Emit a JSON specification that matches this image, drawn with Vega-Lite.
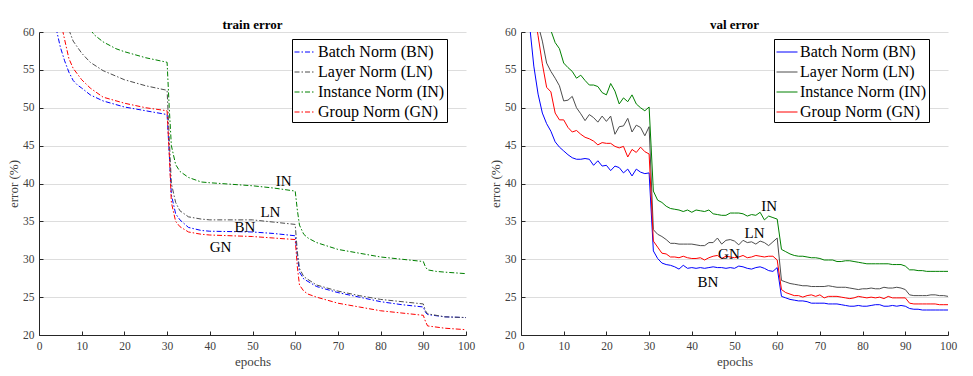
{
  "$schema": "https://vega.github.io/schema/vega-lite/v6.json",
  "background": "white",
  "padding": {"left": 7, "top": 19, "right": 5, "bottom": 5},
  "spacing": 55,
  "bounds": "flush",
  "config": {
    "font": "Liberation Serif",
    "view": {"stroke": null},
    "axis": {
      "labelFont": "Liberation Serif", "labelFontSize": 11.5, "labelColor": "#404040",
      "titleFont": "Liberation Serif", "titleFontSize": 13, "titleFontWeight": "normal", "titleColor": "#404040",
      "domainColor": "#262626", "tickColor": "#262626", "tickSize": -4, "labelPadding": 9,
      "gridColor": "#dddddd", "labelFlush": false, "labelOverlap": false
    },
    "legend": {
      "orient": "none", "legendX": 253, "legendY": 7, "title": null,
      "strokeColor": "#000000", "fillColor": "#ffffff", "padding": 2,
      "symbolType": "stroke", "symbolSize": 441, "symbolStrokeWidth": 1,
      "labelFont": "Liberation Serif", "labelFontSize": 16, "labelColor": "#000000",
      "rowPadding": 1, "labelOffset": 2
    }
  },
  "resolve": {"scale": {"color": "independent", "x": "independent", "y": "independent"}, "legend": {"color": "independent"}},
  "datasets": {
    "train": [
      {"m":"BN","e":4,"v":60.5},{"m":"BN","e":5,"v":58.0},{"m":"BN","e":6,"v":56.2},{"m":"BN","e":7,"v":54.7},{"m":"BN","e":8,"v":53.6},{"m":"BN","e":9,"v":53.0},{"m":"BN","e":10,"v":52.6},{"m":"BN","e":12,"v":51.7},{"m":"BN","e":15,"v":50.9},{"m":"BN","e":20,"v":50.1},{"m":"BN","e":25,"v":49.6},{"m":"BN","e":30,"v":49.1},{"m":"BN","e":30.5,"v":44.0},{"m":"BN","e":31,"v":38.5},{"m":"BN","e":32,"v":36.0},{"m":"BN","e":33,"v":35.2},{"m":"BN","e":35,"v":34.2},{"m":"BN","e":38,"v":33.8},{"m":"BN","e":40,"v":33.7},{"m":"BN","e":50,"v":33.6},{"m":"BN","e":55,"v":33.4},{"m":"BN","e":60,"v":33.1},{"m":"BN","e":60.5,"v":30.5},{"m":"BN","e":61,"v":28.3},{"m":"BN","e":62,"v":27.4},{"m":"BN","e":65,"v":26.4},{"m":"BN","e":70,"v":25.6},{"m":"BN","e":75,"v":25.0},{"m":"BN","e":80,"v":24.4},{"m":"BN","e":85,"v":24.0},{"m":"BN","e":90,"v":23.7},{"m":"BN","e":90.5,"v":23.0},{"m":"BN","e":91,"v":22.7},{"m":"BN","e":95,"v":22.4},{"m":"BN","e":100,"v":22.3},
      {"m":"LN","e":7,"v":60.3},{"m":"LN","e":8,"v":58.8},{"m":"LN","e":10,"v":57.2},{"m":"LN","e":12,"v":56.0},{"m":"LN","e":15,"v":54.9},{"m":"LN","e":20,"v":53.7},{"m":"LN","e":25,"v":52.9},{"m":"LN","e":30,"v":52.3},{"m":"LN","e":30.5,"v":46.0},{"m":"LN","e":31,"v":40.0},{"m":"LN","e":32,"v":37.5},{"m":"LN","e":33,"v":36.4},{"m":"LN","e":35,"v":35.6},{"m":"LN","e":38,"v":35.3},{"m":"LN","e":40,"v":35.2},{"m":"LN","e":50,"v":35.2},{"m":"LN","e":55,"v":34.9},{"m":"LN","e":60,"v":34.6},{"m":"LN","e":60.5,"v":31.0},{"m":"LN","e":61,"v":28.8},{"m":"LN","e":62,"v":27.7},{"m":"LN","e":65,"v":26.6},{"m":"LN","e":70,"v":25.8},{"m":"LN","e":75,"v":25.2},{"m":"LN","e":80,"v":24.7},{"m":"LN","e":85,"v":24.4},{"m":"LN","e":90,"v":24.1},{"m":"LN","e":90.5,"v":23.2},{"m":"LN","e":91,"v":22.8},{"m":"LN","e":95,"v":22.4},{"m":"LN","e":100,"v":22.3},
      {"m":"IN","e":12,"v":60.3},{"m":"IN","e":13,"v":59.6},{"m":"IN","e":15,"v":58.7},{"m":"IN","e":18,"v":57.8},{"m":"IN","e":20,"v":57.4},{"m":"IN","e":25,"v":56.6},{"m":"IN","e":30,"v":56.0},{"m":"IN","e":30.5,"v":50.0},{"m":"IN","e":31,"v":45.0},{"m":"IN","e":32,"v":42.5},{"m":"IN","e":33,"v":41.6},{"m":"IN","e":35,"v":40.8},{"m":"IN","e":38,"v":40.2},{"m":"IN","e":40,"v":40.1},{"m":"IN","e":45,"v":39.9},{"m":"IN","e":50,"v":39.7},{"m":"IN","e":55,"v":39.4},{"m":"IN","e":60,"v":39.0},{"m":"IN","e":60.5,"v":36.5},{"m":"IN","e":61,"v":34.5},{"m":"IN","e":62,"v":33.3},{"m":"IN","e":63,"v":32.8},{"m":"IN","e":65,"v":32.2},{"m":"IN","e":70,"v":31.3},{"m":"IN","e":75,"v":30.8},{"m":"IN","e":80,"v":30.3},{"m":"IN","e":85,"v":30.0},{"m":"IN","e":90,"v":29.7},{"m":"IN","e":90.5,"v":29.0},{"m":"IN","e":91,"v":28.6},{"m":"IN","e":93,"v":28.4},{"m":"IN","e":95,"v":28.3},{"m":"IN","e":100,"v":28.1},
      {"m":"GN","e":5.5,"v":60.3},{"m":"GN","e":6,"v":59.0},{"m":"GN","e":7,"v":56.5},{"m":"GN","e":8,"v":55.2},{"m":"GN","e":10,"v":53.7},{"m":"GN","e":12,"v":52.6},{"m":"GN","e":15,"v":51.4},{"m":"GN","e":20,"v":50.6},{"m":"GN","e":25,"v":50.0},{"m":"GN","e":30,"v":49.6},{"m":"GN","e":30.5,"v":44.0},{"m":"GN","e":31,"v":37.5},{"m":"GN","e":32,"v":35.0},{"m":"GN","e":33,"v":34.3},{"m":"GN","e":35,"v":33.6},{"m":"GN","e":38,"v":33.3},{"m":"GN","e":40,"v":33.2},{"m":"GN","e":50,"v":33.0},{"m":"GN","e":55,"v":32.8},{"m":"GN","e":60,"v":32.6},{"m":"GN","e":60.5,"v":29.0},{"m":"GN","e":61,"v":26.6},{"m":"GN","e":62,"v":25.8},{"m":"GN","e":63,"v":25.4},{"m":"GN","e":65,"v":25.0},{"m":"GN","e":70,"v":24.2},{"m":"GN","e":75,"v":23.7},{"m":"GN","e":80,"v":23.2},{"m":"GN","e":85,"v":22.9},{"m":"GN","e":90,"v":22.6},{"m":"GN","e":90.5,"v":21.8},{"m":"GN","e":91,"v":21.2},{"m":"GN","e":95,"v":20.9},{"m":"GN","e":100,"v":20.7}
    ],
    "val": [
      {"m":"BN","e":2,"v":61.0},{"m":"BN","e":3,"v":55.5},{"m":"BN","e":4,"v":51.8},{"m":"BN","e":5,"v":49.3},{"m":"BN","e":6,"v":47.9},{"m":"BN","e":7,"v":46.9},{"m":"BN","e":8,"v":45.5},{"m":"BN","e":9,"v":44.8},{"m":"BN","e":10,"v":44.3},{"m":"BN","e":11,"v":43.8},{"m":"BN","e":12,"v":43.4},{"m":"BN","e":13,"v":43.2},{"m":"BN","e":14,"v":43.2},{"m":"BN","e":15,"v":43.3},{"m":"BN","e":16,"v":43.2},{"m":"BN","e":17,"v":42.4},{"m":"BN","e":18,"v":43.0},{"m":"BN","e":19,"v":42.3},{"m":"BN","e":20,"v":42.4},{"m":"BN","e":21,"v":41.7},{"m":"BN","e":22,"v":42.3},{"m":"BN","e":23,"v":42.1},{"m":"BN","e":24,"v":41.4},{"m":"BN","e":25,"v":41.9},{"m":"BN","e":26,"v":41.0},{"m":"BN","e":27,"v":41.9},{"m":"BN","e":28,"v":41.5},{"m":"BN","e":29,"v":41.3},{"m":"BN","e":30,"v":41.4},{"m":"BN","e":31,"v":31.1},{"m":"BN","e":32,"v":30.1},{"m":"BN","e":33,"v":29.5},{"m":"BN","e":34,"v":29.3},{"m":"BN","e":35,"v":29.2},{"m":"BN","e":36,"v":29.0},{"m":"BN","e":37,"v":28.7},{"m":"BN","e":38,"v":29.2},{"m":"BN","e":39,"v":28.8},{"m":"BN","e":40,"v":28.9},{"m":"BN","e":41,"v":28.8},{"m":"BN","e":42,"v":28.9},{"m":"BN","e":43,"v":28.8},{"m":"BN","e":44,"v":28.9},{"m":"BN","e":45,"v":29.0},{"m":"BN","e":46,"v":28.9},{"m":"BN","e":47,"v":28.9},{"m":"BN","e":48,"v":28.8},{"m":"BN","e":49,"v":28.9},{"m":"BN","e":50,"v":28.8},{"m":"BN","e":51,"v":29.1},{"m":"BN","e":52,"v":29.0},{"m":"BN","e":53,"v":28.8},{"m":"BN","e":54,"v":28.7},{"m":"BN","e":55,"v":28.9},{"m":"BN","e":56,"v":29.0},{"m":"BN","e":57,"v":28.8},{"m":"BN","e":58,"v":28.5},{"m":"BN","e":59,"v":28.4},{"m":"BN","e":60,"v":28.9},{"m":"BN","e":61,"v":25.1},{"m":"BN","e":62,"v":24.9},{"m":"BN","e":63,"v":24.7},{"m":"BN","e":64,"v":24.6},{"m":"BN","e":65,"v":24.5},{"m":"BN","e":66,"v":24.5},{"m":"BN","e":67,"v":24.4},{"m":"BN","e":68,"v":24.2},{"m":"BN","e":69,"v":24.2},{"m":"BN","e":70,"v":24.2},{"m":"BN","e":71,"v":24.2},{"m":"BN","e":72,"v":24.1},{"m":"BN","e":73,"v":24.1},{"m":"BN","e":74,"v":24.1},{"m":"BN","e":75,"v":24.0},{"m":"BN","e":76,"v":23.9},{"m":"BN","e":77,"v":23.8},{"m":"BN","e":78,"v":23.8},{"m":"BN","e":79,"v":23.9},{"m":"BN","e":80,"v":23.8},{"m":"BN","e":81,"v":23.8},{"m":"BN","e":82,"v":23.9},{"m":"BN","e":83,"v":24.0},{"m":"BN","e":84,"v":24.0},{"m":"BN","e":85,"v":23.8},{"m":"BN","e":86,"v":23.8},{"m":"BN","e":87,"v":23.9},{"m":"BN","e":88,"v":23.8},{"m":"BN","e":89,"v":23.9},{"m":"BN","e":90,"v":23.8},{"m":"BN","e":91,"v":23.5},{"m":"BN","e":92,"v":23.4},{"m":"BN","e":93,"v":23.4},{"m":"BN","e":94,"v":23.3},{"m":"BN","e":95,"v":23.3},{"m":"BN","e":96,"v":23.3},{"m":"BN","e":97,"v":23.3},{"m":"BN","e":98,"v":23.3},{"m":"BN","e":99,"v":23.3},{"m":"BN","e":100,"v":23.3},
      {"m":"LN","e":4,"v":61.0},{"m":"LN","e":5,"v":58.8},{"m":"LN","e":6,"v":55.9},{"m":"LN","e":7,"v":54.8},{"m":"LN","e":8,"v":53.9},{"m":"LN","e":9,"v":52.9},{"m":"LN","e":10,"v":50.9},{"m":"LN","e":11,"v":51.0},{"m":"LN","e":12,"v":51.5},{"m":"LN","e":13,"v":50.0},{"m":"LN","e":14,"v":49.2},{"m":"LN","e":15,"v":48.3},{"m":"LN","e":16,"v":49.1},{"m":"LN","e":17,"v":48.7},{"m":"LN","e":18,"v":48.1},{"m":"LN","e":19,"v":48.9},{"m":"LN","e":20,"v":48.2},{"m":"LN","e":21,"v":48.9},{"m":"LN","e":22,"v":46.5},{"m":"LN","e":23,"v":47.5},{"m":"LN","e":24,"v":47.6},{"m":"LN","e":25,"v":48.6},{"m":"LN","e":26,"v":46.8},{"m":"LN","e":27,"v":47.7},{"m":"LN","e":28,"v":47.4},{"m":"LN","e":29,"v":46.3},{"m":"LN","e":30,"v":47.5},{"m":"LN","e":31,"v":33.9},{"m":"LN","e":32,"v":33.3},{"m":"LN","e":33,"v":33.0},{"m":"LN","e":34,"v":32.6},{"m":"LN","e":35,"v":32.1},{"m":"LN","e":36,"v":32.1},{"m":"LN","e":37,"v":32.0},{"m":"LN","e":38,"v":32.0},{"m":"LN","e":39,"v":32.0},{"m":"LN","e":40,"v":32.0},{"m":"LN","e":41,"v":31.9},{"m":"LN","e":42,"v":31.8},{"m":"LN","e":43,"v":31.8},{"m":"LN","e":44,"v":32.2},{"m":"LN","e":45,"v":32.2},{"m":"LN","e":46,"v":32.8},{"m":"LN","e":47,"v":32.0},{"m":"LN","e":48,"v":32.5},{"m":"LN","e":49,"v":32.6},{"m":"LN","e":50,"v":32.4},{"m":"LN","e":51,"v":31.9},{"m":"LN","e":52,"v":32.5},{"m":"LN","e":53,"v":32.2},{"m":"LN","e":54,"v":32.3},{"m":"LN","e":55,"v":32.0},{"m":"LN","e":56,"v":32.4},{"m":"LN","e":57,"v":32.2},{"m":"LN","e":58,"v":31.8},{"m":"LN","e":59,"v":32.3},{"m":"LN","e":60,"v":32.8},{"m":"LN","e":61,"v":27.2},{"m":"LN","e":62,"v":27.0},{"m":"LN","e":63,"v":26.8},{"m":"LN","e":64,"v":26.7},{"m":"LN","e":65,"v":26.6},{"m":"LN","e":66,"v":26.5},{"m":"LN","e":67,"v":26.5},{"m":"LN","e":68,"v":26.4},{"m":"LN","e":69,"v":26.4},{"m":"LN","e":70,"v":26.4},{"m":"LN","e":71,"v":26.4},{"m":"LN","e":72,"v":26.5},{"m":"LN","e":73,"v":26.4},{"m":"LN","e":74,"v":26.3},{"m":"LN","e":75,"v":26.3},{"m":"LN","e":76,"v":26.3},{"m":"LN","e":77,"v":26.2},{"m":"LN","e":78,"v":26.1},{"m":"LN","e":79,"v":26.0},{"m":"LN","e":80,"v":26.1},{"m":"LN","e":81,"v":26.1},{"m":"LN","e":82,"v":26.2},{"m":"LN","e":83,"v":26.1},{"m":"LN","e":84,"v":26.1},{"m":"LN","e":85,"v":26.3},{"m":"LN","e":86,"v":26.2},{"m":"LN","e":87,"v":26.2},{"m":"LN","e":88,"v":26.3},{"m":"LN","e":89,"v":26.2},{"m":"LN","e":90,"v":26.0},{"m":"LN","e":91,"v":25.3},{"m":"LN","e":92,"v":25.2},{"m":"LN","e":93,"v":25.2},{"m":"LN","e":94,"v":25.2},{"m":"LN","e":95,"v":25.2},{"m":"LN","e":96,"v":25.3},{"m":"LN","e":97,"v":25.3},{"m":"LN","e":98,"v":25.2},{"m":"LN","e":99,"v":25.2},{"m":"LN","e":100,"v":25.1},
      {"m":"IN","e":6,"v":64.0},{"m":"IN","e":7,"v":60.2},{"m":"IN","e":8,"v":58.6},{"m":"IN","e":9,"v":57.8},{"m":"IN","e":10,"v":55.9},{"m":"IN","e":11,"v":55.3},{"m":"IN","e":12,"v":54.8},{"m":"IN","e":13,"v":53.9},{"m":"IN","e":14,"v":54.3},{"m":"IN","e":15,"v":53.6},{"m":"IN","e":16,"v":53.0},{"m":"IN","e":17,"v":53.0},{"m":"IN","e":18,"v":52.8},{"m":"IN","e":19,"v":52.0},{"m":"IN","e":20,"v":51.7},{"m":"IN","e":21,"v":53.2},{"m":"IN","e":22,"v":52.2},{"m":"IN","e":23,"v":50.5},{"m":"IN","e":24,"v":51.3},{"m":"IN","e":25,"v":50.8},{"m":"IN","e":26,"v":51.7},{"m":"IN","e":27,"v":50.5},{"m":"IN","e":28,"v":50.0},{"m":"IN","e":29,"v":49.6},{"m":"IN","e":30,"v":50.1},{"m":"IN","e":31,"v":39.0},{"m":"IN","e":32,"v":37.8},{"m":"IN","e":33,"v":37.5},{"m":"IN","e":34,"v":37.0},{"m":"IN","e":35,"v":36.7},{"m":"IN","e":36,"v":36.6},{"m":"IN","e":37,"v":36.5},{"m":"IN","e":38,"v":36.3},{"m":"IN","e":39,"v":36.5},{"m":"IN","e":40,"v":36.2},{"m":"IN","e":41,"v":36.5},{"m":"IN","e":42,"v":36.4},{"m":"IN","e":43,"v":36.3},{"m":"IN","e":44,"v":36.5},{"m":"IN","e":45,"v":36.0},{"m":"IN","e":46,"v":35.9},{"m":"IN","e":47,"v":35.8},{"m":"IN","e":48,"v":35.8},{"m":"IN","e":49,"v":36.1},{"m":"IN","e":50,"v":36.1},{"m":"IN","e":51,"v":36.1},{"m":"IN","e":52,"v":36.0},{"m":"IN","e":53,"v":35.7},{"m":"IN","e":54,"v":35.9},{"m":"IN","e":55,"v":35.8},{"m":"IN","e":56,"v":36.2},{"m":"IN","e":57,"v":35.2},{"m":"IN","e":58,"v":35.7},{"m":"IN","e":59,"v":35.5},{"m":"IN","e":60,"v":35.3},{"m":"IN","e":61,"v":31.3},{"m":"IN","e":62,"v":31.0},{"m":"IN","e":63,"v":30.7},{"m":"IN","e":64,"v":30.5},{"m":"IN","e":65,"v":30.4},{"m":"IN","e":66,"v":30.4},{"m":"IN","e":67,"v":30.3},{"m":"IN","e":68,"v":30.2},{"m":"IN","e":69,"v":30.2},{"m":"IN","e":70,"v":30.1},{"m":"IN","e":71,"v":29.9},{"m":"IN","e":72,"v":29.9},{"m":"IN","e":73,"v":29.9},{"m":"IN","e":74,"v":29.7},{"m":"IN","e":75,"v":29.7},{"m":"IN","e":76,"v":29.8},{"m":"IN","e":77,"v":29.8},{"m":"IN","e":78,"v":29.7},{"m":"IN","e":79,"v":29.6},{"m":"IN","e":80,"v":29.5},{"m":"IN","e":81,"v":29.4},{"m":"IN","e":82,"v":29.4},{"m":"IN","e":83,"v":29.4},{"m":"IN","e":84,"v":29.4},{"m":"IN","e":85,"v":29.4},{"m":"IN","e":86,"v":29.4},{"m":"IN","e":87,"v":29.3},{"m":"IN","e":88,"v":29.3},{"m":"IN","e":89,"v":29.3},{"m":"IN","e":90,"v":29.1},{"m":"IN","e":91,"v":28.6},{"m":"IN","e":92,"v":28.6},{"m":"IN","e":93,"v":28.5},{"m":"IN","e":94,"v":28.5},{"m":"IN","e":95,"v":28.4},{"m":"IN","e":96,"v":28.4},{"m":"IN","e":97,"v":28.4},{"m":"IN","e":98,"v":28.4},{"m":"IN","e":99,"v":28.4},{"m":"IN","e":100,"v":28.4},
      {"m":"GN","e":3,"v":63.0},{"m":"GN","e":4,"v":59.5},{"m":"GN","e":5,"v":55.8},{"m":"GN","e":6,"v":52.7},{"m":"GN","e":7,"v":52.1},{"m":"GN","e":8,"v":49.3},{"m":"GN","e":9,"v":48.4},{"m":"GN","e":10,"v":48.4},{"m":"GN","e":11,"v":47.4},{"m":"GN","e":12,"v":46.8},{"m":"GN","e":13,"v":47.0},{"m":"GN","e":14,"v":46.5},{"m":"GN","e":15,"v":46.1},{"m":"GN","e":16,"v":45.9},{"m":"GN","e":17,"v":45.6},{"m":"GN","e":18,"v":45.1},{"m":"GN","e":19,"v":45.4},{"m":"GN","e":20,"v":45.3},{"m":"GN","e":21,"v":45.3},{"m":"GN","e":22,"v":44.9},{"m":"GN","e":23,"v":44.7},{"m":"GN","e":24,"v":44.9},{"m":"GN","e":25,"v":43.5},{"m":"GN","e":26,"v":44.5},{"m":"GN","e":27,"v":44.1},{"m":"GN","e":28,"v":44.8},{"m":"GN","e":29,"v":44.2},{"m":"GN","e":30,"v":43.9},{"m":"GN","e":31,"v":32.4},{"m":"GN","e":32,"v":31.6},{"m":"GN","e":33,"v":30.8},{"m":"GN","e":34,"v":30.7},{"m":"GN","e":35,"v":30.3},{"m":"GN","e":36,"v":30.3},{"m":"GN","e":37,"v":30.2},{"m":"GN","e":38,"v":30.4},{"m":"GN","e":39,"v":30.2},{"m":"GN","e":40,"v":30.1},{"m":"GN","e":41,"v":30.1},{"m":"GN","e":42,"v":30.2},{"m":"GN","e":43,"v":29.9},{"m":"GN","e":44,"v":30.2},{"m":"GN","e":45,"v":30.4},{"m":"GN","e":46,"v":30.5},{"m":"GN","e":47,"v":30.1},{"m":"GN","e":48,"v":30.4},{"m":"GN","e":49,"v":30.3},{"m":"GN","e":50,"v":30.2},{"m":"GN","e":51,"v":30.3},{"m":"GN","e":52,"v":30.5},{"m":"GN","e":53,"v":30.2},{"m":"GN","e":54,"v":30.3},{"m":"GN","e":55,"v":30.5},{"m":"GN","e":56,"v":30.4},{"m":"GN","e":57,"v":30.3},{"m":"GN","e":58,"v":30.4},{"m":"GN","e":59,"v":30.4},{"m":"GN","e":60,"v":29.9},{"m":"GN","e":61,"v":26.0},{"m":"GN","e":62,"v":25.6},{"m":"GN","e":63,"v":25.4},{"m":"GN","e":64,"v":25.2},{"m":"GN","e":65,"v":25.2},{"m":"GN","e":66,"v":25.0},{"m":"GN","e":67,"v":25.2},{"m":"GN","e":68,"v":25.3},{"m":"GN","e":69,"v":25.1},{"m":"GN","e":70,"v":25.3},{"m":"GN","e":71,"v":24.9},{"m":"GN","e":72,"v":25.1},{"m":"GN","e":73,"v":25.1},{"m":"GN","e":74,"v":25.1},{"m":"GN","e":75,"v":25.0},{"m":"GN","e":76,"v":24.9},{"m":"GN","e":77,"v":24.8},{"m":"GN","e":78,"v":24.9},{"m":"GN","e":79,"v":25.1},{"m":"GN","e":80,"v":25.0},{"m":"GN","e":81,"v":24.9},{"m":"GN","e":82,"v":25.0},{"m":"GN","e":83,"v":24.9},{"m":"GN","e":84,"v":25.0},{"m":"GN","e":85,"v":24.8},{"m":"GN","e":86,"v":25.1},{"m":"GN","e":87,"v":24.9},{"m":"GN","e":88,"v":24.9},{"m":"GN","e":89,"v":24.9},{"m":"GN","e":90,"v":24.9},{"m":"GN","e":91,"v":24.2},{"m":"GN","e":92,"v":24.1},{"m":"GN","e":93,"v":24.1},{"m":"GN","e":94,"v":24.1},{"m":"GN","e":95,"v":24.1},{"m":"GN","e":96,"v":24.1},{"m":"GN","e":97,"v":24.1},{"m":"GN","e":98,"v":24.0},{"m":"GN","e":99,"v":24.0},{"m":"GN","e":100,"v":24.0}
    ],
    "trainLabels": [
      {"t":"IN","e":57.3,"v":40.3},{"t":"LN","e":54.2,"v":36.2},{"t":"BN","e":48.2,"v":34.2},{"t":"GN","e":42.5,"v":31.6}
    ],
    "valLabels": [
      {"t":"IN","e":58.1,"v":37.0},{"t":"LN","e":54.7,"v":33.4},{"t":"GN","e":48.7,"v":30.7},{"t":"BN","e":43.8,"v":27.0}
    ]
  },
  "hconcat": [
    {
      "width": 427, "height": 303,
      "title": {"text": "train error", "font": "Liberation Serif", "fontSize": 13, "fontWeight": "bold", "color": "#000000", "offset": -6},
      "layer": [
        {
          "data": {"name": "train"},
          "mark": {"type": "line", "clip": true, "strokeWidth": 1, "strokeDash": [5, 2, 1.5, 2]},
          "encoding": {
            "x": {"field": "e", "type": "quantitative", "scale": {"domain": [0, 100], "nice": false}, "axis": {"title": "epochs", "values": [0,10,20,30,40,50,60,70,80,90,100], "grid": false, "labelFont": "Liberation Serif", "labelFontSize": 11.5, "titleFont": "Liberation Serif", "titleFontSize": 13}},
            "y": {"field": "v", "type": "quantitative", "scale": {"domain": [20, 60], "nice": false}, "axis": {"title": "error (%)", "values": [20,25,30,35,40,45,50,55,60], "grid": true, "titlePadding": 2, "labelFont": "Liberation Serif", "labelFontSize": 11.5, "titleFont": "Liberation Serif", "titleFontSize": 13}},
            "color": {"field": "m", "type": "nominal", "scale": {"domain": ["BN","LN","IN","GN"], "range": ["#0000ff","#4d4d4d","#008000","#ff0000"]}, "legend": {"symbolDash": [5, 2, 1.5, 2], "labelFont": "Liberation Serif", "labelFontSize": 16, "labelExpr": "datum.label == 'BN' ? 'Batch Norm (BN)' : datum.label == 'LN' ? 'Layer Norm (LN)' : datum.label == 'IN' ? 'Instance Norm (IN)' : 'Group Norm (GN)'"}}
          }
        },
        {
          "data": {"name": "trainLabels"},
          "mark": {"type": "text", "font": "Liberation Serif", "fontSize": 15, "color": "#000000", "align": "center", "baseline": "middle"},
          "encoding": {
            "x": {"field": "e", "type": "quantitative", "axis": {"title": "epochs", "values": [0,10,20,30,40,50,60,70,80,90,100], "grid": false, "labelFont": "Liberation Serif", "labelFontSize": 11.5, "titleFont": "Liberation Serif", "titleFontSize": 13}},
            "y": {"field": "v", "type": "quantitative", "axis": {"title": "error (%)", "values": [20,25,30,35,40,45,50,55,60], "grid": true, "titlePadding": 2, "labelFont": "Liberation Serif", "labelFontSize": 11.5, "titleFont": "Liberation Serif", "titleFontSize": 13}},
            "text": {"field": "t"}
          }
        }
      ]
    },
    {
      "width": 427, "height": 303,
      "title": {"text": "val error", "font": "Liberation Serif", "fontSize": 13, "fontWeight": "bold", "color": "#000000", "offset": -6},
      "layer": [
        {
          "data": {"name": "val"},
          "mark": {"type": "line", "clip": true, "strokeWidth": 1},
          "encoding": {
            "x": {"field": "e", "type": "quantitative", "scale": {"domain": [0, 100], "nice": false}, "axis": {"title": "epochs", "values": [0,10,20,30,40,50,60,70,80,90,100], "grid": false, "labelFont": "Liberation Serif", "labelFontSize": 11.5, "titleFont": "Liberation Serif", "titleFontSize": 13}},
            "y": {"field": "v", "type": "quantitative", "scale": {"domain": [20, 60], "nice": false}, "axis": {"title": "error (%)", "values": [20,25,30,35,40,45,50,55,60], "grid": true, "titlePadding": 2, "labelFont": "Liberation Serif", "labelFontSize": 11.5, "titleFont": "Liberation Serif", "titleFontSize": 13}},
            "color": {"field": "m", "type": "nominal", "scale": {"domain": ["BN","LN","IN","GN"], "range": ["#0000ff","#4d4d4d","#008000","#ff0000"]}, "legend": {"labelFont": "Liberation Serif", "labelFontSize": 16, "labelExpr": "datum.label == 'BN' ? 'Batch Norm (BN)' : datum.label == 'LN' ? 'Layer Norm (LN)' : datum.label == 'IN' ? 'Instance Norm (IN)' : 'Group Norm (GN)'"}}
          }
        },
        {
          "data": {"name": "valLabels"},
          "mark": {"type": "text", "font": "Liberation Serif", "fontSize": 15, "color": "#000000", "align": "center", "baseline": "middle"},
          "encoding": {
            "x": {"field": "e", "type": "quantitative", "axis": {"title": "epochs", "values": [0,10,20,30,40,50,60,70,80,90,100], "grid": false, "labelFont": "Liberation Serif", "labelFontSize": 11.5, "titleFont": "Liberation Serif", "titleFontSize": 13}},
            "y": {"field": "v", "type": "quantitative", "axis": {"title": "error (%)", "values": [20,25,30,35,40,45,50,55,60], "grid": true, "titlePadding": 2, "labelFont": "Liberation Serif", "labelFontSize": 11.5, "titleFont": "Liberation Serif", "titleFontSize": 13}},
            "text": {"field": "t"}
          }
        }
      ]
    }
  ]
}
